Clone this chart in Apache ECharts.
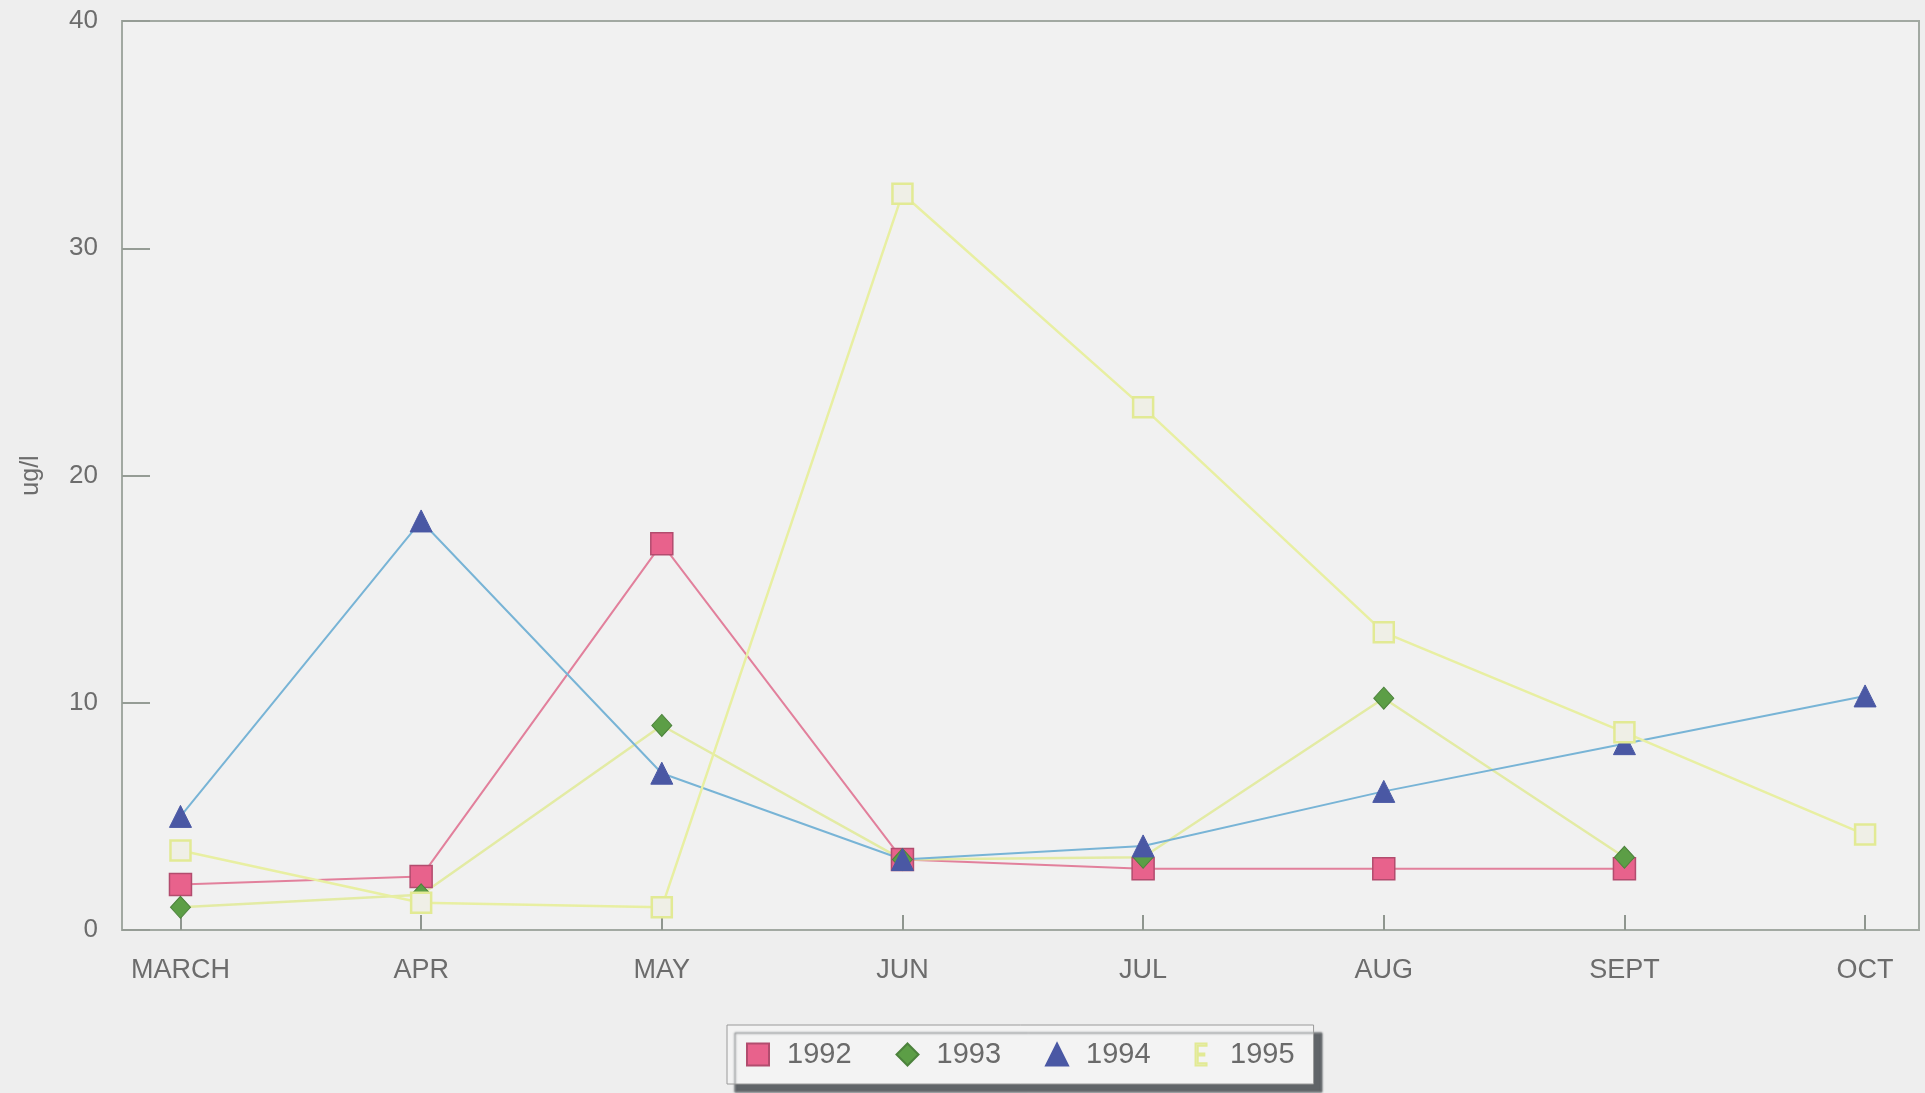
<!DOCTYPE html>
<html>
<head>
<meta charset="utf-8">
<script src="https://cdn.jsdelivr.net/npm/echarts@6/dist/echarts.min.js"></script>
<style>
  html, body { margin: 0; padding: 0; background: #eeeeee; }
  #chart { width: 1925px; height: 1093px; }
</style>
</head>
<body>
<div id="chart"></div>
<script>
// Monthly concentrations (ug/l), March to October, by year
const months = ['MARCH', 'APR', 'MAY', 'JUN', 'JUL', 'AUG', 'SEPT', 'OCT'];
const yearNames = ['1992', '1993', '1994', '1995'];
const v1992 = [2.0, 2.35, 17.0, 3.1, 2.7, 2.7, 2.7, null];
const v1993 = [1.0, 1.55, 9.0, 3.1, 3.2, 10.2, 3.2, null];
const v1994 = [5.0, 18.0, 6.9, 3.1, 3.7, 6.1, 8.2, 10.3];
const v1995 = [3.5, 1.2, 1.0, 32.4, 23.0, 13.1, 8.7, 4.2];
const yTicks = [0, 10, 20, 30, 40];

const monthIdx = months.map((m, i) => i);
const toPoints = vals => vals.map((v, i) => [i, v]).filter(p => p[1] !== null);

const font = '"Liberation Sans", Arial, sans-serif';
const chart = echarts.init(document.getElementById('chart'));

chart.setOption({
  animation: false,
  backgroundColor: '#eeeeee',
  grid: {
    left: 122, right: 6, top: 21, bottom: 163,
    show: true,
    backgroundColor: '#f1f1f1',
    borderColor: '#a2a9a2',
    borderWidth: 2
  },
  xAxis: {
    type: 'value',
    min: -0.243,
    max: 7.224,
    axisLine: { show: true, onZero: false, lineStyle: { color: '#a2a9a2', width: 2 } },
    axisTick: {
      show: true, inside: true, length: 15,
      customValues: monthIdx,
      lineStyle: { color: '#8f968f', width: 2 }
    },
    axisLabel: {
      customValues: monthIdx,
      formatter: v => months[Math.round(v)],
      margin: 27,
      color: '#6c6c6c',
      fontFamily: font,
      fontSize: 27
    },
    splitLine: { show: false }
  },
  yAxis: {
    type: 'value',
    min: yTicks[0],
    max: yTicks[yTicks.length - 1],
    interval: 10,
    name: 'ug/l',
    nameLocation: 'middle',
    nameGap: 78,
    nameTextStyle: { color: '#6c6c6c', fontFamily: font, fontSize: 25 },
    axisLine: { show: true, onZero: false, lineStyle: { color: '#a2a9a2', width: 2 } },
    axisTick: { show: true, inside: true, length: 28, lineStyle: { color: '#959c95', width: 2 } },
    axisLabel: { margin: 24, color: '#6c6c6c', fontFamily: font, fontSize: 26 },
    splitLine: { show: false }
  },
  legend: {
    left: 727,
    top: 1025,
    orient: 'horizontal',
    padding: [15, 19],
    itemWidth: 22,
    itemHeight: 22,
    itemGap: 44,
    backgroundColor: '#f3f3f3',
    borderColor: '#9a9a9a',
    borderWidth: 1,
    shadowColor: 'rgba(70,75,80,0.85)',
    shadowBlur: 2,
    shadowOffsetX: 8,
    shadowOffsetY: 8,
    textStyle: { color: '#6a6a6a', fontFamily: font, fontSize: 29, padding: [0, 0, 0, 13] },
    data: [
      { name: yearNames[0], icon: 'rect' },
      { name: yearNames[1], icon: 'diamond' },
      { name: yearNames[2], icon: 'triangle' },
      { name: yearNames[3], icon: 'path://M0,0 H10 V2 H2 V9 H8 V11 H2 V18 H10 V20 H0 Z' }
    ]
  },
  series: [
    {
      name: yearNames[0], type: 'line', data: toPoints(v1992),
      symbol: 'rect', symbolSize: 22,
      itemStyle: { color: '#e8628c', borderColor: '#b24c6e', borderWidth: 1.5 },
      lineStyle: { color: '#e2809c', width: 2 }
    },
    {
      name: yearNames[1], type: 'line', data: toPoints(v1993),
      symbol: 'diamond', symbolSize: [20, 22],
      itemStyle: { color: '#5c9e46', borderColor: '#4c823c', borderWidth: 1 },
      lineStyle: { color: '#e3eba4', width: 2.5 }
    },
    {
      name: yearNames[2], type: 'line', data: toPoints(v1994),
      symbol: 'triangle', symbolSize: 22,
      itemStyle: { color: '#4a58a4', borderColor: '#4a58a4', borderWidth: 1 },
      lineStyle: { color: '#78b4d6', width: 2 }
    },
    {
      name: yearNames[3], type: 'line', data: toPoints(v1995),
      symbol: 'rect', symbolSize: 20,
      itemStyle: { color: '#efefe6', borderColor: '#e2ea94', borderWidth: 2.5 },
      lineStyle: { color: '#e8efa2', width: 2.5 }
    }
  ]
});
</script>
</body>
</html>
